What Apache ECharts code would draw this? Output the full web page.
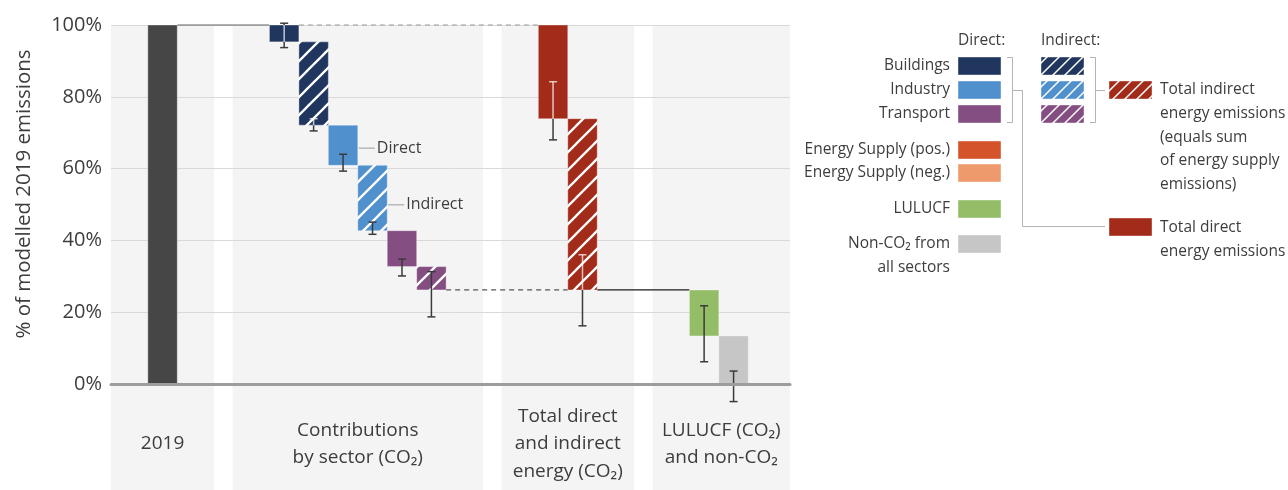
<!DOCTYPE html>
<html><head><meta charset="utf-8">
<script src="https://cdn.jsdelivr.net/npm/echarts@6/dist/echarts.min.js"></script>
<style>html,body{margin:0;padding:0;background:#fff}#c{width:1288px;height:490px}</style>
</head><body><div id="c"></div>
<script>
// ---------------- DATA ----------------
const groupLabels = ['2019', 'Contributions\nby sector (CO₂)', 'Total direct\nand indirect\nenergy (CO₂)', 'LULUCF (CO₂)\nand non-CO₂'];
const barNames = ['2019', 'Buildings (direct)', 'Buildings (indirect)', 'Industry (direct)', 'Industry (indirect)',
  'Transport (direct)', 'Transport (indirect)', 'Total direct energy', 'Total indirect energy', 'LULUCF', 'Non-CO₂'];
const barGroup = [0, 1, 1, 1, 1, 1, 1, 2, 2, 3, 3];
const barKind = ['2019', 'Buildings', 'Buildings', 'Industry', 'Industry', 'Transport', 'Transport', 'TotalEnergy', 'TotalEnergy', 'LULUCF', 'NonCO2'];
const barHatched = [false, false, true, false, true, false, true, false, true, false, false];
const barTop = [100, 100, 95.3, 72.1, 60.9, 42.7, 32.7, 100, 73.9, 26.2, 13.4];
const barBottom = [0, 95.3, 72.1, 60.9, 42.7, 32.7, 26.2, 73.9, 26.2, 13.4, 0];
const errHigh = [null, 100.5, 73.9, 64.0, 45.1, 34.8, 31.3, 84.2, 36.0, 21.8, 3.6];
const errLow = [null, 93.7, 70.5, 59.3, 41.7, 30.1, 18.7, 68.0, 16.2, 6.2, -4.9];
const yTicks = [0, 20, 40, 60, 80, 100];
// connectors: [fromBar, toBar, which edge of fromBar, dashed]
const connectors = [[0, 1, 'top', false], [1, 7, 'top', true], [6, 8, 'bottom', true], [8, 9, 'bottom', false]];
const annotationText = ['Direct', 'Indirect'];
const annotationBar = [3, 4];
const annotationLevel = [65.7, 49.9];
const yAxisTitle = '% of modelled 2019 emissions';
const legendHeaders = ['Direct:', 'Indirect:'];
const legendLabels = ['Buildings', 'Industry', 'Transport', 'Energy Supply (pos.)', 'Energy Supply (neg.)', 'LULUCF', 'Non-CO₂ from\nall sectors'];
const legendKeys = ['Buildings', 'Industry', 'Transport', 'EnergyPos', 'EnergyNeg', 'LULUCF', 'NonCO2'];
const legendHasIndirect = [true, true, true, false, false, false, false];
const legendTotalIndirect = 'Total indirect\nenergy emissions\n(equals sum\nof energy supply\nemissions)';
const legendTotalDirect = 'Total direct\nenergy emissions';

// ---------------- STYLE ----------------
const COLORS = {
  '2019': '#464646', Buildings: '#21365f', Industry: '#4f90cd', Transport: '#844e82',
  EnergyPos: '#d4532b', EnergyNeg: '#ef9a6c', LULUCF: '#93be67', NonCO2: '#c6c6c6', TotalEnergy: '#a32b1a'
};
const FONT = '"Open Sans", "Noto Sans", sans-serif';
const TXT = '#3d3d3d';

function hatch(color, s, lw) {
  const c = document.createElement('canvas'); c.width = s; c.height = s;
  const g = c.getContext('2d');
  g.fillStyle = color; g.fillRect(0, 0, s, s);
  g.strokeStyle = '#ffffff'; g.lineWidth = lw;
  g.beginPath();
  g.moveTo(0, s); g.lineTo(s, 0);
  g.moveTo(-s / 2, s / 2); g.lineTo(s / 2, -s / 2);
  g.moveTo(s / 2, s * 1.5); g.lineTo(s * 1.5, s / 2);
  g.stroke();
  return { image: c, repeat: 'repeat' };
}
function brightness(hex) {
  const r = parseInt(hex.slice(1, 3), 16), g = parseInt(hex.slice(3, 5), 16), b = parseInt(hex.slice(5, 7), 16);
  return 0.299 * r + 0.587 * g + 0.114 * b;
}

// ---------------- LAYOUT (axis units = one bar width) ----------------
const PAD = 1.25, GAP = 0.63, XMAX = 23.056, Y_BOTTOM = -30, LABEL_Y = -16.7;
const bands = [], barX = [];
let cursor = 0;
groupLabels.forEach((g, gi) => {
  const start = cursor;
  let n = 0;
  barGroup.forEach((bg) => { if (bg === gi) { barX.push(start + PAD + n); n++; } });
  const end = start + PAD + n + PAD;
  bands.push([start, end]);
  cursor = end + GAP;
});
bands[bands.length - 1][1] = XMAX;

const barFill = barKind.map((k, i) => barHatched[i] ? hatch(COLORS[k], 18, 2.3) : COLORS[k]);
const barDark = barKind.map(k => brightness(COLORS[k]) < 90);

const chart = echarts.init(document.getElementById('c'), null, { renderer: 'canvas' });

const bandSeries = {
  type: 'custom', z: 0, silent: true,
  data: bands.map((b, i) => [b[0], b[1], i]),
  encode: { x: [0, 1] },
  renderItem(params, api) {
    const x0 = api.value(0), x1 = api.value(1), i = api.value(2);
    const a = api.coord([x0, 100]), b = api.coord([x1, Y_BOTTOM]);
    const c = api.coord([(x0 + x1) / 2, LABEL_Y]);
    return {
      type: 'group', children: [
        { type: 'rect', shape: { x: a[0], y: a[1], width: b[0] - a[0], height: b[1] - a[1] }, style: { fill: '#f4f4f4' } },
        { type: 'text', x: c[0], y: c[1], style: { text: groupLabels[i], fontSize: 19, fontFamily: FONT, fill: TXT, align: 'center', verticalAlign: 'middle', lineHeight: 27.5 } }
      ]
    };
  }
};

const connectorSeries = {
  type: 'custom', z: 2, silent: true,
  data: connectors.map(c => [barX[c[0]] + 1, barX[c[1]], c[2] === 'top' ? barTop[c[0]] : barBottom[c[0]], c[3] ? 1 : 0, c[0]]),
  renderItem(params, api) {
    const a = api.coord([api.value(0), api.value(2)]), b = api.coord([api.value(1), api.value(2)]);
    const dashed = api.value(3) === 1;
    const from = api.value(4);
    const col = dashed ? (from === 1 ? '#9a9a9a' : '#555555') : (from === 0 ? '#666666' : '#1a1a1a');
    return { type: 'line', shape: { x1: a[0], y1: a[1], x2: b[0], y2: b[1] }, style: { stroke: col, lineWidth: 1.2, lineDash: dashed ? [5, 4] : null } };
  }
};

const barSeries = {
  type: 'custom', z: 3, silent: true,
  data: barNames.map((n, i) => [barX[i], barBottom[i], barTop[i], errLow[i] == null ? NaN : errLow[i], errHigh[i] == null ? NaN : errHigh[i], i]),
  encode: { x: 0, y: [1, 2] },
  renderItem(params, api) {
    const xl = api.value(0), lo = api.value(1), hi = api.value(2), eL = api.value(3), eH = api.value(4), i = api.value(5);
    const tl = api.coord([xl, hi]), br = api.coord([xl + 1, lo]);
    const children = [{
      type: 'rect', shape: { x: tl[0], y: tl[1], width: br[0] - tl[0], height: br[1] - tl[1] },
      style: { fill: barFill[i], stroke: 'rgba(255,255,255,0.35)', lineWidth: 1 }
    }];
    if (!isNaN(eL) && !isNaN(eH)) {
      const cx = api.coord([xl + 0.5, 0])[0];
      const dark = '#3a3a3a', light = 'rgba(255,255,255,0.72)';
      const segs = [];
      if (barDark[i]) {
        const inLo = Math.max(eL, lo), inHi = Math.min(eH, hi);
        if (eL < lo) segs.push([eL, Math.min(eH, lo), dark]);
        if (eH > hi) segs.push([Math.max(eL, hi), eH, dark]);
        if (inHi > inLo) segs.push([inLo, inHi, light]);
      } else segs.push([eL, eH, dark]);
      segs.forEach(s => {
        const p = api.coord([0, s[0]])[1], q = api.coord([0, s[1]])[1];
        children.push({ type: 'line', shape: { x1: cx, y1: p, x2: cx, y2: q }, style: { stroke: s[2], lineWidth: 1.5 } });
      });
      [eL, eH].forEach(v => {
        const inside = barDark[i] && v >= lo && v <= hi;
        const y = api.coord([0, v])[1];
        children.push({ type: 'line', shape: { x1: cx - 4, y1: y, x2: cx + 4, y2: y }, style: { stroke: inside ? light : dark, lineWidth: 1.5 } });
      });
    }
    return { type: 'group', children };
  }
};

const annotationSeries = {
  type: 'custom', z: 4, silent: true,
  data: annotationText.map((t, k) => [barX[annotationBar[k]] + 1, annotationLevel[k], k]),
  renderItem(params, api) {
    const p = api.coord([api.value(0), api.value(1)]);
    const k = api.value(2);
    return {
      type: 'group', children: [
        { type: 'line', shape: { x1: p[0] + 1, y1: p[1], x2: p[0] + 17, y2: p[1] }, style: { stroke: '#9a9a9a', lineWidth: 1 } },
        { type: 'text', x: p[0] + 19, y: p[1], style: { text: annotationText[k], fontSize: 16, fontFamily: FONT, fill: TXT, align: 'left', verticalAlign: 'middle' } }
      ]
    };
  }
};

// ---------------- LEGEND (graphic) ----------------
const g = [];
const LX_D = 958, LX_I = 1041, LW = 43, LH = 18, LBL_R = 950;
const rowY = [57, 81, 105, 141, 164, 200, 235];
const LFS = 15.5;
g.push({ type: 'text', x: LX_D, y: 41, style: { text: legendHeaders[0], fontSize: LFS, fontFamily: FONT, fill: TXT, align: 'left', verticalAlign: 'middle' } });
g.push({ type: 'text', x: LX_I, y: 41, style: { text: legendHeaders[1], fontSize: LFS, fontFamily: FONT, fill: TXT, align: 'left', verticalAlign: 'middle' } });
legendLabels.forEach((lab, i) => {
  const y = rowY[i];
  const col = COLORS[legendKeys[i]];
  g.push({ type: 'rect', shape: { x: LX_D, y: y, width: LW, height: LH }, style: { fill: col, stroke: 'rgba(255,255,255,0.4)', lineWidth: 1 } });
  if (legendHasIndirect[i]) {
    g.push({ type: 'rect', shape: { x: LX_I, y: y, width: LW, height: LH }, style: { fill: hatch(col, 12, 1.5), stroke: 'rgba(255,255,255,0.4)', lineWidth: 1 } });
  }
  const multi = lab.indexOf('\n') >= 0;
  g.push({ type: 'text', x: LBL_R, y: multi ? y + LH / 2 - 12 : y + LH / 2,
    style: { text: lab, fontSize: LFS, fontFamily: FONT, fill: TXT, align: 'right', verticalAlign: multi ? 'top' : 'middle', lineHeight: 24 } });
});
// total boxes
g.push({ type: 'rect', shape: { x: 1109, y: 81, width: LW, height: LH }, style: { fill: hatch(COLORS.TotalEnergy, 12, 1.5), stroke: 'rgba(255,255,255,0.4)', lineWidth: 1 } });
g.push({ type: 'rect', shape: { x: 1109, y: 218, width: LW, height: LH }, style: { fill: COLORS.TotalEnergy, stroke: 'rgba(255,255,255,0.4)', lineWidth: 1 } });
g.push({ type: 'text', x: 1160, y: 78, style: { text: legendTotalIndirect, fontSize: LFS, fontFamily: FONT, fill: TXT, align: 'left', verticalAlign: 'top', lineHeight: 23.7 } });
g.push({ type: 'text', x: 1160, y: 215, style: { text: legendTotalDirect, fontSize: LFS, fontFamily: FONT, fill: TXT, align: 'left', verticalAlign: 'top', lineHeight: 24.4 } });
// brackets
const BR = { stroke: '#b3b3b3', lineWidth: 1, fill: null };
g.push({ type: 'polyline', shape: { points: [[1007, 57.5], [1012.5, 57.5], [1012.5, 122.5], [1007, 122.5]] }, style: BR });
g.push({ type: 'polyline', shape: { points: [[1012.5, 90.5], [1022.5, 90.5], [1022.5, 226.5], [1105, 226.5]] }, style: BR });
g.push({ type: 'polyline', shape: { points: [[1090, 57.5], [1095.5, 57.5], [1095.5, 122.5], [1090, 122.5]] }, style: BR });
g.push({ type: 'polyline', shape: { points: [[1095.5, 90.5], [1105, 90.5]] }, style: BR });
// y axis title
g.push({ type: 'text', x: 24, y: 194, rotation: Math.PI / 2, style: { text: yAxisTitle, fontSize: 20.5, fontFamily: FONT, fill: TXT, align: 'center', verticalAlign: 'middle' } });

chart.setOption({
  animation: false,
  backgroundColor: '#ffffff',
  grid: { left: 111, right: 498, top: 25, bottom: 106, containLabel: false, outerBoundsMode: 'none' },
  xAxis: {
    type: 'value', min: 0, max: XMAX, z: 5,
    axisLine: { show: true, onZero: false, lineStyle: { color: '#9d9d9d', width: 3 } },
    axisTick: { show: false }, axisLabel: { show: false }, splitLine: { show: false }
  },
  yAxis: {
    type: 'value', min: yTicks[0], max: yTicks[yTicks.length - 1], interval: yTicks[1] - yTicks[0], z: 1,
    axisLine: { show: false }, axisTick: { show: false },
    axisLabel: { formatter: '{value}%', fontSize: 20, fontFamily: FONT, color: TXT, margin: 9 },
    splitLine: { show: true, lineStyle: { color: '#d9d9d9', width: 1 } }
  },
  graphic: g,
  series: [bandSeries, connectorSeries, barSeries, annotationSeries]
});
</script></body></html>
